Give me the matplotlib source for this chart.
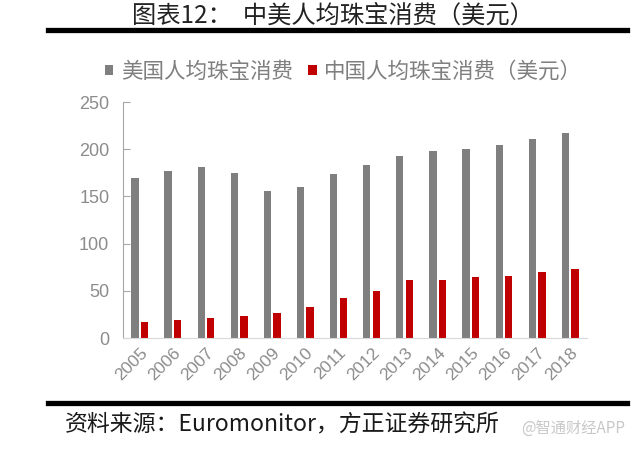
import matplotlib.pyplot as plt
import numpy as np

plt.rcParams['font.family'] = ['Noto Sans CJK SC', 'DejaVu Sans']

years = ['2005', '2006', '2007', '2008', '2009', '2010', '2011',
         '2012', '2013', '2014', '2015', '2016', '2017', '2018']
us_spend = [169, 177, 181, 175, 156, 160, 174, 183, 193, 198, 200, 204, 211, 217]
cn_spend = [17, 19, 21, 23, 27, 33, 42, 50, 61, 61, 65, 66, 70, 73]

fig = plt.figure(figsize=(6.35, 4.49), dpi=100)
ax = fig.add_axes([0.194, 0.2472, 0.730, 0.5256])

x = np.arange(len(years))
w = 0.22
ax.bar(x - 0.145, us_spend, w, color='#7f7f7f', label='美国人均珠宝消费')
ax.bar(x + 0.145, cn_spend, w, color='#c00000', label='中国人均珠宝消费（美元）')

ax.set_xlim(-0.5, len(years) - 0.5)
ax.set_ylim(0, 250)
ax.set_yticks([0, 50, 100, 150, 200, 250])
ax.set_xticks(x)
ax.set_xticklabels(years, rotation=45, ha='right', rotation_mode='anchor',
                   family='Liberation Sans', fontsize=12.5, color='#8c8c8c')
for lab in ax.get_yticklabels():
    lab.set_family('Liberation Sans')
    lab.set_fontsize(13)
    lab.set_color('#8c8c8c')
ax.tick_params(axis='y', direction='in', length=5, color='#a6a6a6', pad=10)
ax.tick_params(axis='x', length=0, pad=5)

for s in ['top', 'right']:
    ax.spines[s].set_visible(False)
ax.spines['left'].set_color('#a6a6a6')
ax.spines['bottom'].set_color('#d9d9d9')

leg = ax.legend(loc='lower center', bbox_to_anchor=(0.475, 1.0), ncol=2, frameon=False,
                handlelength=0.4, handleheight=0.4, handletextpad=0.35,
                columnspacing=0.7, fontsize=15.5)
for t in leg.get_texts():
    t.set_color('#7f7f7f')

fig.text(0.525, 1 - 16 / 449, '图表12：  中美人均珠宝消费（美元）', ha='center', va='center',
         fontsize=17.5, color='#222222')
fig.add_artist(plt.Line2D([48 / 635, 627 / 635], [1 - 30 / 449, 1 - 30 / 449],
                          color='black', lw=3.8, transform=fig.transFigure))
fig.add_artist(plt.Line2D([48 / 635, 627 / 635], [1 - 403 / 449, 1 - 403 / 449],
                          color='black', lw=3.8, transform=fig.transFigure))
fig.text(65 / 635, 1 - 425 / 449, '资料来源：Euromonitor，方正证券研究所', ha='left', va='center',
         fontsize=16.5, color='#1a1a1a')
fig.text(625 / 635, 1 - 428 / 449, '@智通财经APP', ha='right', va='center',
         fontsize=11, color='#c8c8c8')

fig.savefig('out.png', dpi=100)
